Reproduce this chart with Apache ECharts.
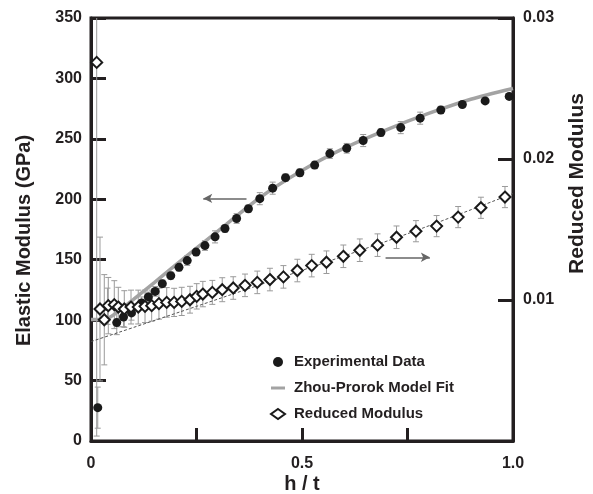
<!DOCTYPE html>
<html>
<head>
<meta charset="utf-8">
<script src="https://cdn.jsdelivr.net/npm/echarts@6/dist/echarts.min.js"></script>
<style>
html,body{margin:0;padding:0;background:#fff;}
#chart{width:593px;height:494px;}
</style>
</head>
<body>
<div id="chart"></div>
<script>
// ---- Data ----
const expH = [0.016, 0.039, 0.061, 0.077, 0.096, 0.120, 0.136, 0.152, 0.169, 0.189, 0.2085, 0.228, 0.249, 0.270, 0.294, 0.3175, 0.345, 0.373, 0.400, 0.4305, 0.461, 0.495, 0.530, 0.566, 0.606, 0.645, 0.687, 0.734, 0.780, 0.829, 0.880, 0.934, 0.991];
const expE = [27.6, 111.5, 98, 102.6, 106, 114.2, 119.2, 123.8, 130.2, 136.8, 143.7, 149.3, 156.3, 161.7, 168.9, 175.8, 184.1, 192.2, 200.5, 209.2, 217.9, 222, 228.3, 237.8, 242.2, 248.6, 255.2, 259.3, 267.1, 273.9, 278.4, 281.4, 285.1];
const expErr = [17, 15, 10, 8, 6, 5, 4, 4, 3, 3, 3, 4, 3, 4, 5, 3, 4, 3, 5, 5, 3, 3, 3, 4, 4, 5, 3, 5, 5, 3, 2, 2, 2];

const modelH = [0, 0.02, 0.04, 0.06, 0.1, 0.15, 0.2, 0.3, 0.4, 0.5, 0.6, 0.7, 0.8, 0.9, 1.0];
const modelE = [100.5, 100.5, 101.5, 106, 117, 131, 145.5, 173.5, 201.3, 223.8, 242.3, 257.5, 271, 282.8, 291.7];

const redH = [0.0135, 0.0213, 0.0315, 0.041, 0.0552, 0.0647, 0.0789, 0.0948, 0.112, 0.128, 0.1438, 0.161, 0.1794, 0.197, 0.215, 0.2346, 0.2505, 0.265, 0.2875, 0.311, 0.337, 0.365, 0.394, 0.424, 0.456, 0.489, 0.523, 0.558, 0.598, 0.637, 0.679, 0.724, 0.770, 0.819, 0.870, 0.924, 0.981];
const redM = [0.02685, 0.00936, 0.00860, 0.00960, 0.00967, 0.00950, 0.00936, 0.00950, 0.00950, 0.00955, 0.00960, 0.00974, 0.00983, 0.00983, 0.00990, 0.01002, 0.01026, 0.01042, 0.01054, 0.01073, 0.01085, 0.01104, 0.01125, 0.01145, 0.01164, 0.01209, 0.01244, 0.01268, 0.01310, 0.01353, 0.01389, 0.01445, 0.01488, 0.01524, 0.01588, 0.01654, 0.01730];
const redErr = [0.0265, 0.0051, 0.0032, 0.0020, 0.0017, 0.0014, 0.0013, 0.0012, 0.0012, 0.00115, 0.0011, 0.0011, 0.00105, 0.001, 0.001, 0.00095, 0.0009, 0.0009, 0.00085, 0.00085, 0.0008, 0.0008, 0.0008, 0.0008, 0.0008, 0.0008, 0.0008, 0.0008, 0.0008, 0.0008, 0.0008, 0.0008, 0.00075, 0.00075, 0.00075, 0.00075, 0.00075];

const fitH = [0, 0.25, 0.5, 0.75, 1.0];
const fitM = [0.00705, 0.00955, 0.0121, 0.0147, 0.01755];

// annotation arrows: [startH, endH, level]
const leftArrow = [0.3685, 0.266, 200.7];
const rightArrow = [0.698, 0.803, 0.01303];

const xTickLabels = {0: '0', 0.5: '0.5', 1: '1.0'};
const legendNames = ['Experimental Data', 'Zhou-Prorok Model Fit', 'Reduced Modulus'];

// ---- Chart ----
const INK = '#231f20';
const FONT = '"Liberation Sans", Arial, Helvetica, sans-serif';
const chart = echarts.init(document.getElementById('chart'), null, {renderer: 'canvas'});

function errBarRender(maxVal) {
  return function (params, api) {
    const x = api.value(0), lo = api.value(1), hi = api.value(2);
    const loC = Math.max(lo, 0), hiC = Math.min(hi, maxVal);
    const p1 = api.coord([x, loC]), p2 = api.coord([x, hiC]);
    const cap = 3;
    const st = {stroke: '#9a9a9a', lineWidth: 1};
    const children = [{type: 'line', shape: {x1: p1[0], y1: p1[1], x2: p2[0], y2: p2[1]}, style: st}];
    if (loC === lo) children.push({type: 'line', shape: {x1: p1[0] - cap, y1: p1[1], x2: p1[0] + cap, y2: p1[1]}, style: st});
    if (hiC === hi) children.push({type: 'line', shape: {x1: p2[0] - cap, y1: p2[1], x2: p2[0] + cap, y2: p2[1]}, style: st});
    return {type: 'group', children: children};
  };
}

const option = {
  animation: false,
  backgroundColor: '#fff',
  textStyle: {fontFamily: FONT},
  grid: {left: 91, right: 80, top: 18, bottom: 53, containLabel: false, outerBoundsMode: 'none',
    show: true, borderColor: INK, borderWidth: 3, backgroundColor: 'transparent'},
  legend: {
    orient: 'vertical', left: 265, top: 349,
    itemWidth: 14, itemHeight: 10, itemGap: 10,
    textStyle: {fontSize: 15, fontWeight: 'bold', color: INK, fontFamily: FONT, lineHeight: 16, padding: [0, 0, 0, 4]},
    data: [
      {name: legendNames[0], icon: 'circle'},
      {name: legendNames[1], icon: 'path://M0,0 L14,0 L14,3 L0,3 Z'},
      {name: legendNames[2], icon: 'diamond'}
    ]
  },
  xAxis: {
    type: 'value', min: 0, max: 1, interval: 0.25,
    name: 'h / t', nameLocation: 'middle', nameGap: 33, nameMoveOverlap: false,
    nameTextStyle: {fontSize: 20, fontWeight: 'bold', color: INK, fontFamily: FONT},
    axisLine: {show: true, lineStyle: {color: INK, width: 3}},
    axisTick: {show: true, inside: true, length: 13, lineStyle: {color: INK, width: 3}},
    axisLabel: {margin: 15, fontSize: 16, fontWeight: 'bold', color: INK, fontFamily: FONT,
      formatter: v => (xTickLabels[v] !== undefined ? xTickLabels[v] : '')},
    splitLine: {show: false}
  },
  yAxis: [{
    type: 'value', min: 0, max: 350, interval: 50, position: 'left',
    name: 'Elastic Modulus (GPa)', nameLocation: 'middle', nameGap: 57, nameRotate: 90,
    nameTextStyle: {fontSize: 20, fontWeight: 'bold', color: INK, fontFamily: FONT, padding: [0, 22, 0, 0]},
    axisLine: {show: true, lineStyle: {color: INK, width: 3}},
    axisTick: {show: true, inside: true, length: 15, lineStyle: {color: INK, width: 3}},
    axisLabel: {margin: 9, fontSize: 16, fontWeight: 'bold', color: INK, fontFamily: FONT},
    splitLine: {show: false}
  }, {
    type: 'value', min: 0, max: 0.03, interval: 0.01, position: 'right',
    name: 'Reduced Modulus', nameLocation: 'middle', nameGap: 54, nameRotate: 90,
    nameTextStyle: {fontSize: 21, fontWeight: 'bold', color: INK, fontFamily: FONT, padding: [0, 0, 0, 92]},
    axisLine: {show: true, lineStyle: {color: INK, width: 3}},
    axisTick: {show: true, inside: true, length: 15, lineStyle: {color: INK, width: 3}},
    axisLabel: {margin: 10, fontSize: 16, fontWeight: 'bold', color: INK, fontFamily: FONT,
      formatter: v => (v === 0 ? '' : v.toFixed(2))},
    splitLine: {show: false}
  }],
  series: [
    {
      name: 'expErr', type: 'custom', yAxisIndex: 0, z: 1, silent: true,
      renderItem: errBarRender(350),
      encode: {x: 0, y: [1, 2]},
      data: expH.map((h, i) => [h, expE[i] - expErr[i], expE[i] + expErr[i]])
    },
    {
      name: 'redErr', type: 'custom', yAxisIndex: 1, z: 1, silent: true,
      renderItem: errBarRender(0.03),
      encode: {x: 0, y: [1, 2]},
      data: redH.map((h, i) => [h, redM[i] - redErr[i], redM[i] + redErr[i]])
    },
    {
      name: 'fit', type: 'line', yAxisIndex: 1, z: 2, symbol: 'none', smooth: 0.3,
      lineStyle: {color: '#555', width: 1, type: [3, 2]},
      data: fitH.map((h, i) => [h, fitM[i]])
    },
    {
      name: 'Zhou-Prorok Model Fit', type: 'line', yAxisIndex: 0, z: 3, symbol: 'none', showSymbol: false, smooth: 0.25,
      lineStyle: {color: '#a3a3a3', width: 3.5}, itemStyle: {color: '#a3a3a3'},
      data: modelH.map((h, i) => [h, modelE[i]])
    },
    {
      name: 'Experimental Data', type: 'scatter', yAxisIndex: 0, z: 4,
      symbol: 'circle', symbolSize: 9, itemStyle: {color: '#1a1a1a', opacity: 1},
      data: expH.map((h, i) => [h, expE[i]]),
      markLine: {
        silent: true, animation: false, symbol: ['none', 'arrow'], symbolSize: [7, 9],
        label: {show: false}, lineStyle: {color: '#666', width: 1.5, type: 'solid'},
        data: [[{coord: [leftArrow[0], leftArrow[2]]}, {coord: [leftArrow[1], leftArrow[2]]}]]
      }
    },
    {
      name: 'Reduced Modulus', type: 'scatter', yAxisIndex: 1, z: 5,
      symbol: 'diamond', symbolSize: 11,
      itemStyle: {color: '#ffffff', borderColor: '#1a1a1a', borderWidth: 2, opacity: 1},
      data: redH.map((h, i) => [h, redM[i]]),
      markLine: {
        silent: true, animation: false, symbol: ['none', 'arrow'], symbolSize: [7, 9],
        label: {show: false}, lineStyle: {color: '#666', width: 1.5, type: 'solid'},
        data: [[{coord: [rightArrow[0], rightArrow[2]]}, {coord: [rightArrow[1], rightArrow[2]]}]]
      }
    }
  ]
};
chart.setOption(option);
</script>
</body>
</html>
